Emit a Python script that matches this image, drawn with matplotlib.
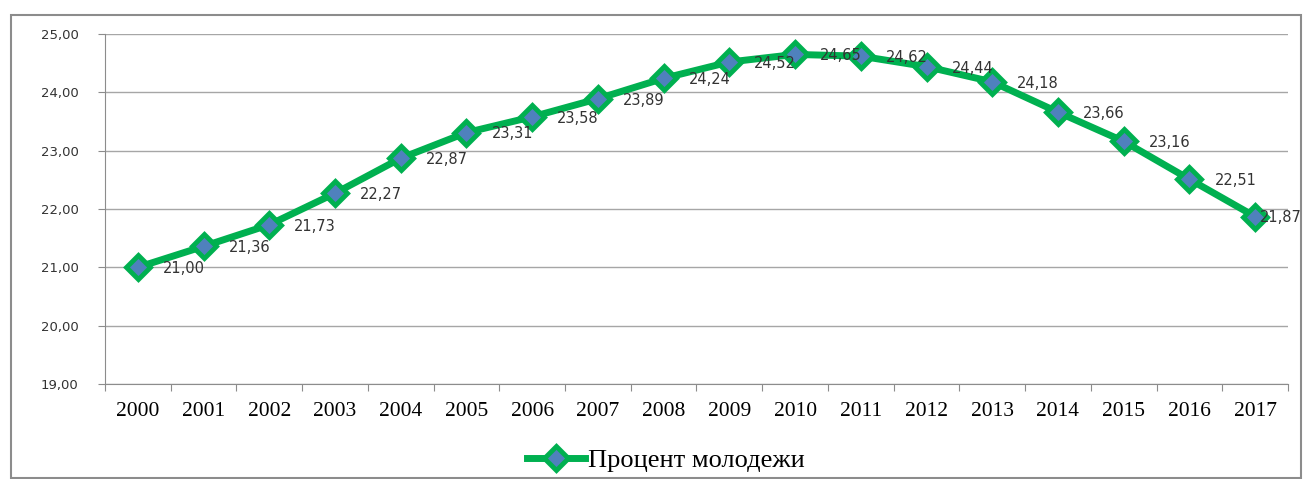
import matplotlib.pyplot as plt
import numpy as np

years = ['2000', '2001', '2002', '2003', '2004', '2005', '2006', '2007', '2008',
         '2009', '2010', '2011', '2012', '2013', '2014', '2015', '2016', '2017']
percent = [21.00, 21.36, 21.73, 22.27, 22.87, 23.31, 23.58, 23.89, 24.24,
           24.52, 24.65, 24.62, 24.44, 24.18, 23.66, 23.16, 22.51, 21.87]
series_name = 'Процент молодежи'

W, H = 1309, 479
fig = plt.figure(figsize=(W / 100, H / 100), dpi=100)

# внешняя рамка диаграммы
fig.patches.append(plt.Rectangle((11 / W, 1 / H), 1290 / W, 463 / H, transform=fig.transFigure,
                                 fill=False, edgecolor='#8c8c8c', linewidth=1.5))

ax = fig.add_axes([105 / W, 1 - 384 / H, 1183 / W, 350 / H])
x = np.arange(len(years))
ax.plot(x, percent, color='#00B050', linewidth=5, marker='D', markersize=12,
        markerfacecolor='#4F81BD', markeredgecolor='#00B050', markeredgewidth=3.5,
        label=series_name, zorder=3)

# подписи значений справа от точек (последняя сдвинута влево, чтобы влезла)
for i, v in enumerate(percent):
    dx = 18 if i < len(percent) - 1 else 3.5
    ax.annotate(f'{v:.2f}'.replace('.', ','), (x[i], v), xytext=(dx, -1), textcoords='offset points',
                ha='left', va='center', fontsize=10.5, color='#333333',
                family='DejaVu Sans', zorder=4)

ax.set_xlim(-0.5, len(years) - 0.5)
ax.set_ylim(19, 25)
ax.set_yticks(np.arange(19, 25.5, 1))
ax.set_yticklabels([f'{t:.2f}'.replace('.', ',') for t in np.arange(19, 25.5, 1)],
                   fontsize=9.5, color='#333333')
ax.set_xticks(np.arange(-0.5, len(years), 1), minor=False)
ax.set_xticklabels([])
ax.set_xticks(x, minor=True)
ax.set_xticklabels(years, minor=True, fontsize=15.5, family='Liberation Serif')
ax.tick_params(axis='x', which='major', length=5, color='#8c8c8c')
ax.tick_params(axis='x', which='minor', length=0, pad=13)
ax.tick_params(axis='y', length=5, color='#8c8c8c', pad=14)
ax.grid(axis='y', color='#a6a6a6', linewidth=1)
for s in ['top', 'right']:
    ax.spines[s].set_visible(False)
for s in ['left', 'bottom']:
    ax.spines[s].set_color('#8c8c8c')

fig.legend(loc='center', bbox_to_anchor=(666 / W, 1 - 460 / H), frameon=False,
           prop={'family': 'Liberation Serif', 'size': 19}, handlelength=2.2, handletextpad=0.1)

fig.savefig('out.png', dpi=100)
